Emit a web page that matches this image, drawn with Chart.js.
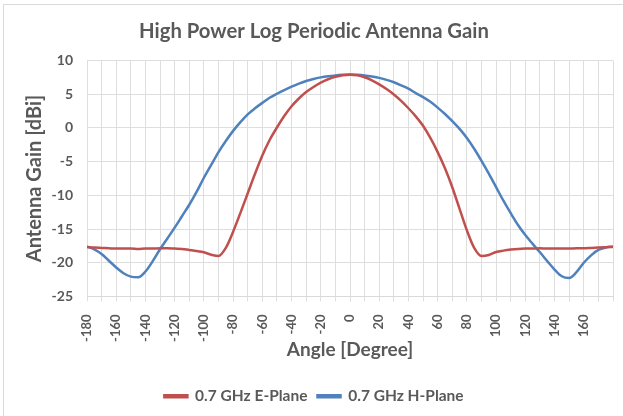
<!DOCTYPE html>
<html>
<head>
<meta charset="utf-8">
<script src="https://cdn.jsdelivr.net/npm/chart.js@4.4.1/dist/chart.umd.min.js"></script>
<style>
  html, body { margin: 0; padding: 0; background: #ffffff; }
  #wrap { position: relative; width: 623px; height: 416px; }
  #frame { position: absolute; left: 3px; top: 4px; right: 0; bottom: 0; border-top: 1px solid #d9d9d9; border-left: 1px solid #d9d9d9; }
  canvas { position: absolute; left: 0; top: 0; }
</style>
</head>
<body>
<div id="wrap">
  <div id="frame"></div>
  <canvas id="c" width="623" height="416"></canvas>
</div>
<script>
const chartTitle = "High Power Log Periodic Antenna Gain";
const xTitle = "Angle [Degree]";
const yTitle = "Antenna Gain [dBi]";
const seriesNames = ["0.7 GHz E-Plane", "0.7 GHz H-Plane"];

const angles = [-180,-175,-170,-165,-160,-155,-150,-145,-140,-135,-130,-125,-120,-115,-110,-105,-100,-95,-90,-85,-80,-75,-70,-65,-60,-55,-50,-45,-40,-35,-30,-25,-20,-15,-10,-5,
  0,5,10,15,20,25,30,35,40,45,50,55,60,65,70,75,80,85,90,95,100,105,110,115,120,125,130,135,140,145,150,155,160,165,170,175,180];

const eGain = [-17.65,-17.75,-17.8,-17.85,-17.9,-17.9,-17.9,-17.95,-17.9,-17.9,-17.85,-17.85,-17.9,-17.95,-18.1,-18.25,-18.45,-18.8,-19.0,-17.8,-15.4,-12.6,-9.7,-6.8,-4.1,-1.8,0.05,1.75,3.2,4.35,5.3,6.05,6.7,7.2,7.57,7.8,
  7.88,7.78,7.5,7.05,6.45,5.75,4.95,4.0,2.9,1.7,0.3,-1.5,-3.6,-6.0,-8.8,-12.0,-15.2,-17.8,-19.0,-18.85,-18.4,-18.2,-18.05,-17.95,-17.9,-17.9,-17.85,-17.9,-17.9,-17.9,-17.9,-17.85,-17.85,-17.8,-17.75,-17.7,-17.65];

const hGain = [-17.6,-18.0,-18.7,-19.7,-20.7,-21.55,-22.05,-22.15,-21.3,-19.75,-18.0,-16.4,-14.8,-13.1,-11.4,-9.5,-7.4,-5.5,-3.6,-1.95,-0.45,0.85,2.0,2.9,3.7,4.45,5.05,5.6,6.1,6.55,6.94,7.25,7.48,7.65,7.77,7.85,
  7.9,7.85,7.75,7.6,7.4,7.1,6.75,6.3,5.8,5.15,4.55,3.85,3.0,2.05,1.0,-0.15,-1.5,-3.1,-4.9,-6.8,-8.8,-10.8,-12.65,-14.4,-15.9,-17.2,-18.45,-19.75,-21.0,-22.0,-22.25,-21.4,-20.0,-18.9,-18.1,-17.75,-17.6];

const yTicks = [10,5,0,-5,-10,-15,-20,-25];

const FONT = "Lato, 'Open Sans', sans-serif";
const TXT = "#595959";

new Chart(document.getElementById("c"), {
  type: "line",
  data: {
    datasets: [
      { label: seriesNames[0], data: angles.map((a,i)=>({x:a,y:eGain[i]})), borderColor: "#C0504D", backgroundColor: "#C0504D", borderWidth: 2.5, pointRadius: 0, cubicInterpolationMode: "monotone", fill: false },
      { label: seriesNames[1], data: angles.map((a,i)=>({x:a,y:hGain[i]})), borderColor: "#4F81BD", backgroundColor: "#4F81BD", borderWidth: 2.5, pointRadius: 0, cubicInterpolationMode: "monotone", fill: false }
    ]
  },
  options: {
    responsive: false,
    animation: false,
    layout: { padding: { left: 15, right: 10, top: 0, bottom: 2 } },
    plugins: {
      title: { display: true, text: chartTitle, color: TXT, font: { family: FONT, size: 20.3, weight: "bold" }, padding: { top: 19, bottom: 17 } },
      legend: { position: "bottom", labels: { color: TXT, font: { family: FONT, size: 15.5, weight: "bold" }, boxWidth: 23, boxHeight: 2, padding: 10 } },
      tooltip: { enabled: false }
    },
    scales: {
      x: {
        type: "linear", min: -180, max: 180,
        afterFit: (s) => { s.paddingRight = 0; s.paddingLeft = 0; s.height = 82; },
        grid: { color: "#dedede", lineWidth: 1, tickLength: 5, drawTicks: true },
        border: { color: "#d9d9d9" },
        ticks: { stepSize: 10, autoSkip: false, maxRotation: 90, minRotation: 90, padding: 13, color: TXT, font: { family: FONT, size: 13, weight: "bold" },
          callback: (v) => (v % 20 === 0 && v < 180) ? String(v) : "" },
        title: { display: true, text: xTitle, color: TXT, font: { family: FONT, size: 19, weight: "bold" }, padding: { top: 0, bottom: 17 } }
      },
      y: {
        min: -25, max: 10,
        afterBuildTicks: (s) => { s.ticks = yTicks.map(v=>({value:v})); },
        afterFit: (s) => { s.width = 72; },
        grid: { color: "#dedede", lineWidth: 1, drawTicks: false },
        border: { display: false },
        ticks: { color: TXT, padding: 14, font: { family: FONT, size: 14, weight: "bold" } },
        title: { display: true, text: yTitle, color: TXT, font: { family: FONT, size: 20, weight: "bold" }, padding: { top: 8, bottom: 0 } }
      }
    }
  }
});
</script>
</body>
</html>
